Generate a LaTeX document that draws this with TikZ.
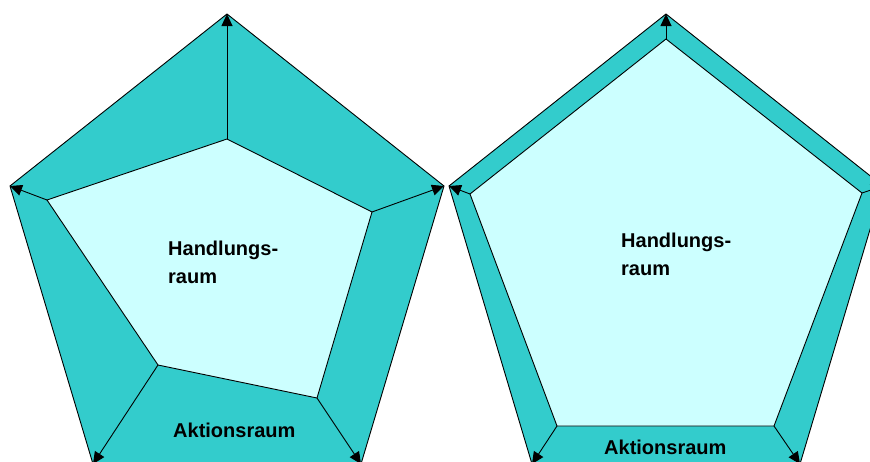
\documentclass[tikz,border=0pt]{standalone}
\usepackage{fontspec}
\setmainfont{Liberation Sans}
\usetikzlibrary{arrows.meta}
\definecolor{aktion}{HTML}{33CCCC}
\definecolor{handlung}{HTML}{CCFFFF}
\tikzset{
  outerpent/.style={draw=black,line width=.9pt,fill=aktion,line join=miter},
  innerpent/.style={draw=black,line width=.9pt,fill=handlung},
  spoke/.style={-{Triangle[length=12pt,width=11pt]},line width=.9pt,draw=black},
  raumlabel/.style={font=\fontsize{20}{28}\selectfont\bfseries,align=left,inner sep=0pt,anchor=base west}
}
\begin{document}
\begin{tikzpicture}[x=1pt,y=-1pt]
\useasboundingbox (0,0) rectangle (870,461);
\clip (0,0) rectangle (870,461);
% left pentagon: wide, uneven Aktionsraum
\coordinate (lo1) at (227,14);
\coordinate (lo2) at (444,186);
\coordinate (lo3) at (361,464);
\coordinate (lo4) at (93,464);
\coordinate (lo5) at (10,186);
\coordinate (li1) at (227,139);
\coordinate (li2) at (372,212);
\coordinate (li3) at (317,398);
\coordinate (li4) at (158,365);
\coordinate (li5) at (47,200);
\draw[outerpent] (lo1)--(lo2)--(lo3)--(lo4)--(lo5)--cycle;
\draw[innerpent] (li1)--(li2)--(li3)--(li4)--(li5)--cycle;
\foreach \i in {1,...,5} \draw[spoke] (li\i)--(lo\i);
\node[raumlabel] (lhand) at (168,283) {Handlungs-\\raum};
\node[raumlabel] (lakt) at (173,437) {Aktionsraum};
% right pentagon: narrow, even Aktionsraum
\coordinate (ro1) at (666,14);
\coordinate (ro2) at (883,186);
\coordinate (ro3) at (800,464);
\coordinate (ro4) at (532,464);
\coordinate (ro5) at (449,186);
\coordinate (ri1) at (666,39);
\coordinate (ri2) at (862,193);
\coordinate (ri3) at (774,426);
\coordinate (ri4) at (557,426);
\coordinate (ri5) at (470,194);
\draw[outerpent] (ro1)--(ro2)--(ro3)--(ro4)--(ro5)--cycle;
\draw[innerpent] (ri1)--(ri2)--(ri3)--(ri4)--(ri5)--cycle;
\foreach \i in {1,...,5} \draw[spoke] (ri\i)--(ro\i);
\node[raumlabel] (rhand) at (621,275) {Handlungs-\\raum};
\node[raumlabel] (rakt) at (604,454) {Aktionsraum};
\end{tikzpicture}
\end{document}
